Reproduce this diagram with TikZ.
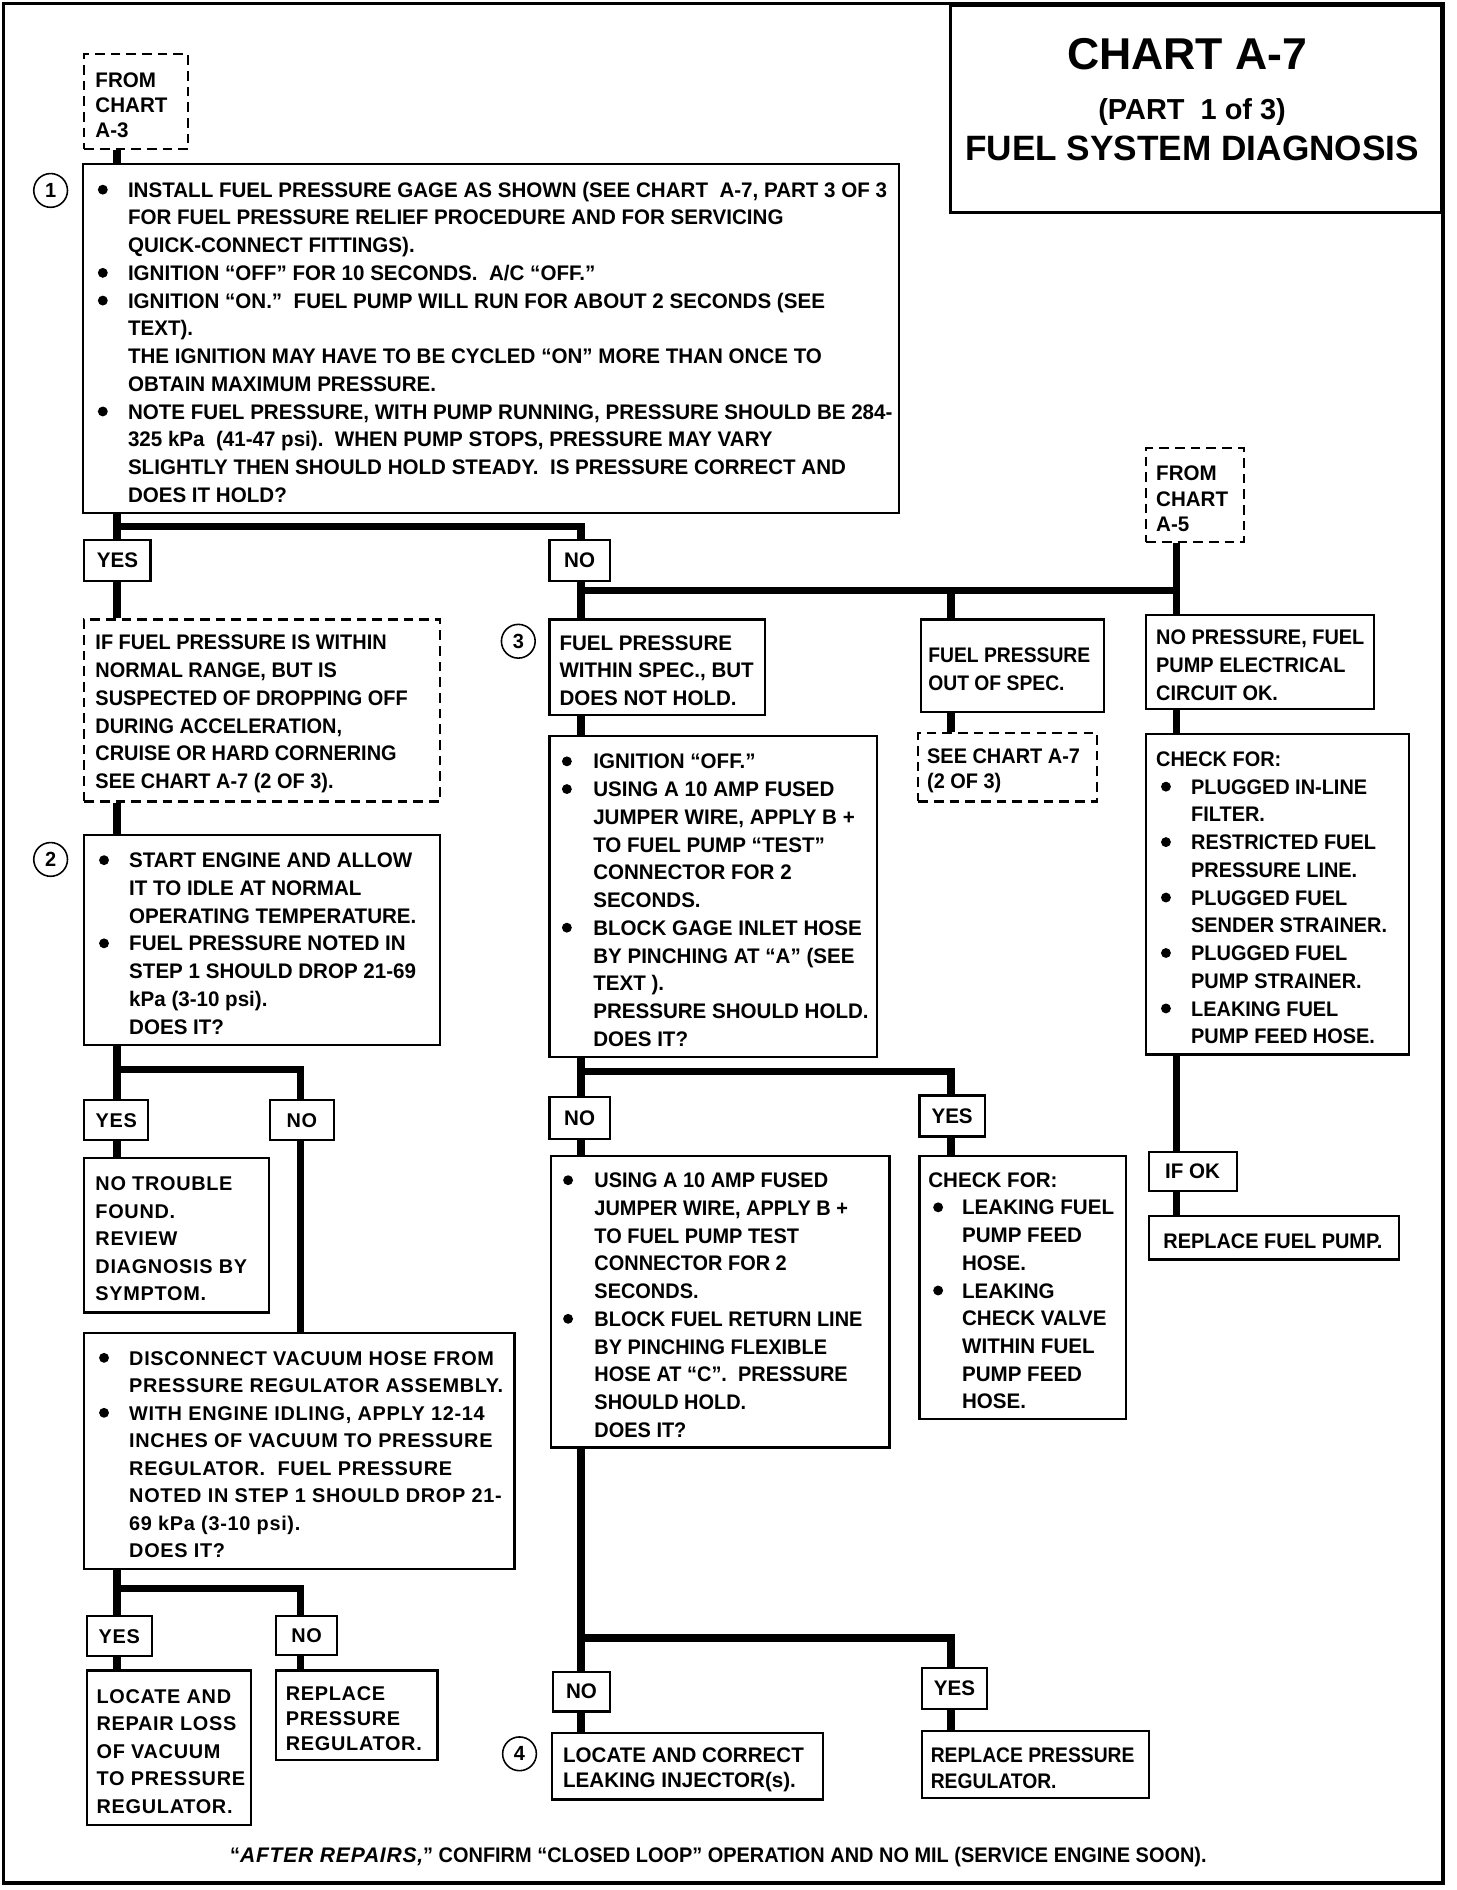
\documentclass[tikz,border=0pt]{standalone}
\usepackage{fontspec}
\setmainfont{Liberation Sans}
\newfontfamily\bodyf[FakeStretch=0.975]{Liberation Sans Bold}
\newfontfamily\bodyb[FakeStretch=0.945]{Liberation Sans Bold}
\newfontfamily\bodyc[FakeStretch=0.915]{Liberation Sans Bold}
\newfontfamily\widef[LetterSpace=3.5]{Liberation Sans Bold}
\newfontfamily\wideif[LetterSpace=3.5]{Liberation Sans Bold Italic}
\usetikzlibrary{calc}
\newcommand\mydot{\tikz[baseline={(0pt,-6.3pt)}]\fill (0pt,0pt) circle (4.1pt);}
\newcommand\mybl[2][0pt]{\makebox[#2][l]{\hspace*{#1}\mydot}}
\newcommand\myind[1]{\hspace*{#1}}
\begin{document}
\begin{tikzpicture}[x=1pt,y=-1pt,
  box/.style={draw, line width=1.8pt, rectangle, inner sep=0pt, anchor=north west},
  dbox/.style={box, dash pattern=on 8pt off 5pt},
  conn/.style={line width=6pt, line join=miter},
  txt/.style={inner sep=0pt, align=left, anchor=west, yshift=-3pt, font=\bodyf\fontsize{17.5}{23}\selectfont},
  txtb/.style={txt, font=\bodyb\fontsize{17.5}{23}\selectfont},
  txtc/.style={txt, font=\bodyc\fontsize{17.5}{23}\selectfont},
  wtxt/.style={inner sep=0pt, align=left, anchor=west, yshift=-3pt, font=\widef\fontsize{16.5}{22.8}\selectfont},
  lab/.style={box, font=\bodyf\fontsize{17.5}{20}\selectfont},
  wlab/.style={box, font=\widef\fontsize{16.5}{20}\selectfont},
  num/.style={circle, draw, line width=1.3pt, minimum size=28pt, inner sep=0pt, font=\bodyf\fontsize{17}{20}\selectfont}
]
\useasboundingbox (0,0) rectangle (1208,1568);
\fill[white] (0,0) rectangle (1208,1568);
\draw[line width=3pt] (3,3) rectangle (1197,1562);

% title
\node[box, line width=2.5pt, minimum width=408pt, minimum height=172pt] (title) at (787,3) {};
\node[font=\bfseries\fontsize{37}{40}\selectfont, inner sep=0pt] (tt1) at (985,45) {CHART A-7};
\node[font=\bfseries\fontsize{24}{28}\selectfont, inner sep=0pt] (tt2) at (989,93) {(PART\ \ 1 of 3)};
\node[font=\bfseries\fontsize{29.2}{30}\selectfont, inner sep=0pt] (tt3) at (989,123) {FUEL SYSTEM DIAGNOSIS};

% column coordinates
\coordinate (cL) at (97,0);
\coordinate (cL2) at (249,0);
\coordinate (cM) at (482,0);
\coordinate (cM2) at (789,0);
\coordinate (cR) at (976,0);

% ---------- nodes ----------
\node[dbox, minimum width=86pt, minimum height=79pt] (fromA3) at (69,44) {};
\node[txt, font=\bodyf\fontsize{17.5}{21}\selectfont] (fromA3t) at ([xshift=10pt]fromA3.west) {FROM\\CHART\\A-3};

\node[box, minimum width=677pt, minimum height=290pt] (b1) at (68,135) {};
\node[num] (n1) at (42,158) {1};
\node[txt] (b1t) at ([xshift=13pt]b1.west) {%
\mybl{25pt}INSTALL FUEL PRESSURE GAGE AS SHOWN (SEE CHART\ \ A-7, PART 3 OF 3\\
\myind{25pt}FOR FUEL PRESSURE RELIEF PROCEDURE AND FOR SERVICING\\
\myind{25pt}QUICK-CONNECT FITTINGS).\\
\mybl{25pt}IGNITION “OFF” FOR 10 SECONDS.\ \ A/C “OFF.”\\
\mybl{25pt}IGNITION “ON.”\ \ FUEL PUMP WILL RUN FOR ABOUT 2 SECONDS (SEE\\
\myind{25pt}TEXT).\\
\myind{25pt}THE IGNITION MAY HAVE TO BE CYCLED “ON” MORE THAN ONCE TO\\
\myind{25pt}OBTAIN MAXIMUM PRESSURE.\\
\mybl{25pt}NOTE FUEL PRESSURE, WITH PUMP RUNNING, PRESSURE SHOULD BE 284-\\
\myind{25pt}325 kPa\ \ (41-47 psi).\ \ WHEN PUMP STOPS, PRESSURE MAY VARY\\
\myind{25pt}SLIGHTLY THEN SHOULD HOLD STEADY.\ \ IS PRESSURE CORRECT AND\\
\myind{25pt}DOES IT HOLD?};

\node[lab, minimum width=55pt, minimum height=34pt] (yes1) at (69,447) {YES};
\node[lab, minimum width=50pt, minimum height=34pt] (no1) at (455,447) {NO};

\node[dbox, minimum width=295pt, minimum height=151pt] (d2) at (69,513) {};
\node[txtb] (d2t) at ([xshift=10pt]d2.west) {IF FUEL PRESSURE IS WITHIN\\NORMAL RANGE, BUT IS\\SUSPECTED OF DROPPING OFF\\DURING ACCELERATION,\\CRUISE OR HARD CORNERING\\SEE CHART A-7 (2 OF 3).};

\node[box, minimum width=295pt, minimum height=174pt] (b2) at (69,692) {};
\node[num] (n2) at (42,713) {2};
\node[txt] (b2t) at ([xshift=13pt]b2.west) {%
\mybl{25pt}START ENGINE AND ALLOW\\
\myind{25pt}IT TO IDLE AT NORMAL\\
\myind{25pt}OPERATING TEMPERATURE.\\
\mybl{25pt}FUEL PRESSURE NOTED IN\\
\myind{25pt}STEP 1 SHOULD DROP 21-69\\
\myind{25pt}kPa (3-10 psi).\\
\myind{25pt}DOES IT?};

\node[wlab, minimum width=53pt, minimum height=33pt] (yes2) at (69,912) {YES};
\node[wlab, minimum width=53pt, minimum height=33pt] (no2) at (223,912) {NO};

\node[box, minimum width=153pt, minimum height=128pt] (ntf) at (69,960) {};
\node[wtxt] (ntft) at ([xshift=10pt]ntf.west) {NO TROUBLE\\FOUND.\\REVIEW\\DIAGNOSIS BY\\SYMPTOM.};

\node[box, minimum width=357pt, minimum height=196pt] (disc) at (69,1105) {};
\node[wtxt] (disct) at ([xshift=13pt]disc.west) {%
\mybl{25pt}DISCONNECT VACUUM HOSE FROM\\
\myind{25pt}PRESSURE REGULATOR ASSEMBLY.\\
\mybl{25pt}WITH ENGINE IDLING, APPLY 12-14\\
\myind{25pt}INCHES OF VACUUM TO PRESSURE\\
\myind{25pt}REGULATOR.\ \ FUEL PRESSURE\\
\myind{25pt}NOTED IN STEP 1 SHOULD DROP 21-\\
\myind{25pt}69 kPa (3-10 psi).\\
\myind{25pt}DOES IT?};

\node[wlab, minimum width=54pt, minimum height=33pt] (yes3) at (71,1340) {YES};
\node[wlab, minimum width=51pt, minimum height=32pt] (no3) at (228,1340) {NO};

\node[box, minimum width=136pt, minimum height=128pt] (locrep) at (71,1385) {};
\node[wtxt] (locrept) at ([xshift=9pt]locrep.west) {LOCATE AND\\REPAIR LOSS\\OF VACUUM\\TO PRESSURE\\REGULATOR.};

\node[box, minimum width=134pt, minimum height=74pt] (rr1) at (228,1385) {};
\node[wtxt, font=\widef\fontsize{16.5}{20.5}\selectfont] (rr1t) at ([xshift=9pt]rr1.west) {REPLACE\\PRESSURE\\REGULATOR.};

% middle / right
\node[num] (n3) at (430,532) {3};
\node[box, minimum width=179pt, minimum height=79pt] (b3a) at (455,513) {};
\node[txt] (b3at) at ([xshift=9pt]b3a.west) {FUEL PRESSURE\\WITHIN SPEC., BUT\\DOES NOT HOLD.};

\node[box, minimum width=152pt, minimum height=77pt] (b3b) at (763,513) {};
\node[txtc] (b3bt) at ([xshift=7pt]b3b.west) {FUEL PRESSURE\\OUT OF SPEC.};

\node[dbox, minimum width=81pt, minimum height=78pt] (fromA5) at (950,371) {};
\node[txt, font=\bodyf\fontsize{17.5}{21}\selectfont] (fromA5t) at ([xshift=9pt]fromA5.west) {FROM\\CHART\\A-5};

\node[box, minimum width=189pt, minimum height=78pt] (b3c) at (950,509) {};
\node[txtb] (b3ct) at ([xshift=9pt]b3c.west) {NO PRESSURE, FUEL\\PUMP ELECTRICAL\\CIRCUIT OK.};

\node[dbox, minimum width=148pt, minimum height=57pt] (seeA7) at (761,607) {};
\node[txt, font=\bodyb\fontsize{17.5}{21}\selectfont] (seeA7t) at ([xshift=8pt]seeA7.west) {SEE CHART A-7\\(2 OF 3)};

\node[box, minimum width=218pt, minimum height=266pt] (chkR) at (950,608) {};
\node[txtb] (chkRt) at ([xshift=9pt]chkR.west) {CHECK FOR:\\
\mybl[4pt]{29pt}PLUGGED IN-LINE\\
\myind{29pt}FILTER.\\
\mybl[4pt]{29pt}RESTRICTED FUEL\\
\myind{29pt}PRESSURE LINE.\\
\mybl[4pt]{29pt}PLUGGED FUEL\\
\myind{29pt}SENDER STRAINER.\\
\mybl[4pt]{29pt}PLUGGED FUEL\\
\myind{29pt}PUMP STRAINER.\\
\mybl[4pt]{29pt}LEAKING FUEL\\
\myind{29pt}PUMP FEED HOSE.};

\node[lab, minimum width=73pt, minimum height=32pt] (ifok) at (952,955) {IF OK};
\node[box, minimum width=208pt, minimum height=36pt] (rpump) at (952,1008) {};
\node[txtb] (rpumpt) at ([xshift=13pt]rpump.west) {REPLACE FUEL PUMP.};

\node[box, minimum width=272pt, minimum height=266pt] (b3d) at (455,610) {};
\node[txt] (b3dt) at ([xshift=11pt]b3d.west) {%
\mybl{26pt}IGNITION “OFF.”\\
\mybl{26pt}USING A 10 AMP FUSED\\
\myind{26pt}JUMPER WIRE, APPLY B +\\
\myind{26pt}TO FUEL PUMP “TEST”\\
\myind{26pt}CONNECTOR FOR 2\\
\myind{26pt}SECONDS.\\
\mybl{26pt}BLOCK GAGE INLET HOSE\\
\myind{26pt}BY PINCHING AT “A” (SEE\\
\myind{26pt}TEXT ).\\
\myind{26pt}PRESSURE SHOULD HOLD.\\
\myind{26pt}DOES IT?};

\node[lab, minimum width=50pt, minimum height=35pt] (no4) at (455,909) {NO};
\node[lab, minimum width=54pt, minimum height=34pt] (yes4) at (762,908) {YES};

\node[box, minimum width=281pt, minimum height=242pt] (b4) at (456,958) {};
\node[txtb] (b4t) at ([xshift=11pt]b4.west) {%
\mybl{26pt}USING A 10 AMP FUSED\\
\myind{26pt}JUMPER WIRE, APPLY B +\\
\myind{26pt}TO FUEL PUMP TEST\\
\myind{26pt}CONNECTOR FOR 2\\
\myind{26pt}SECONDS.\\
\mybl{26pt}BLOCK FUEL RETURN LINE\\
\myind{26pt}BY PINCHING FLEXIBLE\\
\myind{26pt}HOSE AT “C”.\ \ PRESSURE\\
\myind{26pt}SHOULD HOLD.\\
\myind{26pt}DOES IT?};

\node[box, minimum width=171pt, minimum height=218pt] (chkM) at (762,958) {};
\node[txt] (chkMt) at ([xshift=8pt]chkM.west) {CHECK FOR:\\
\mybl[4pt]{28pt}LEAKING FUEL\\
\myind{28pt}PUMP FEED\\
\myind{28pt}HOSE.\\
\mybl[4pt]{28pt}LEAKING\\
\myind{28pt}CHECK VALVE\\
\myind{28pt}WITHIN FUEL\\
\myind{28pt}PUMP FEED\\
\myind{28pt}HOSE.};

\node[lab, minimum width=47pt, minimum height=33pt] (no5) at (458,1386) {NO};
\node[lab, minimum width=54pt, minimum height=34pt] (yes5) at (764,1383) {YES};

\node[num] (n4) at (431,1455) {4};
\node[box, minimum width=225pt, minimum height=55pt] (locinj) at (457,1437) {};
\node[txt, font=\bodyf\fontsize{17.5}{21}\selectfont] (locinjt) at ([xshift=10pt]locinj.west) {LOCATE AND CORRECT\\LEAKING INJECTOR(s).};

\node[box, minimum width=188pt, minimum height=56pt] (rr2) at (764,1435) {};
\node[txt, font=\bodyc\fontsize{17.5}{22}\selectfont] (rr2t) at ([xshift=8pt]rr2.west) {REPLACE PRESSURE\\REGULATOR.};

\node[inner sep=0pt, font=\bodyb\fontsize{17.5}{20}\selectfont] (foot) at (596,1541) {“{\wideif AFTER REPAIRS,}” CONFIRM “CLOSED LOOP” OPERATION AND NO MIL (SERVICE ENGINE SOON).};

% ---------- connectors ----------
\coordinate (j1) at (97,437);
\coordinate (j2) at (482,490);
\coordinate (j2b) at (789,490);
\coordinate (j2c) at (976,490);
\coordinate (j3) at (97,887);
\coordinate (j4) at (97,1318);
\coordinate (j5) at (482,889);
\coordinate (j6) at (482,1359);

\draw[conn] (fromA3.south -| cL) -- (b1.north -| cL);
\draw[conn] (b1.south -| cL) -- (yes1.north -| cL);
\draw[conn] (j1) -| (no1.north -| cM);
\draw[conn] (yes1.south -| cL) -- (d2.north -| cL);
\draw[conn] (d2.south -| cL) -- (b2.north -| cL);
\draw[conn] (b2.south -| cL) -- (yes2.north -| cL);
\draw[conn] (j3) -| (no2.north -| cL2);
\draw[conn] (yes2.south -| cL) -- (ntf.north -| cL);
\draw[conn] (no2.south -| cL2) -- (disc.north -| cL2);
\draw[conn] (disc.south -| cL) -- (yes3.north -| cL);
\draw[conn] (j4) -| (no3.north -| cL2);
\draw[conn] (yes3.south -| cL) -- (locrep.north -| cL);
\draw[conn] (no3.south -| cL2) -- (rr1.north -| cL2);

\draw[conn] (no1.south -| cM) -- (b3a.north -| cM);
\draw[conn] (j2) -- (j2c);
\draw[conn] (j2b) -- (b3b.north -| cM2);
\draw[conn] (fromA5.south -| cR) -- (b3c.north -| cR);
\draw[conn] (b3a.south -| cM) -- (b3d.north -| cM);
\draw[conn] (b3b.south -| cM2) -- (seeA7.north -| cM2);
\draw[conn] (b3c.south -| cR) -- (chkR.north -| cR);
\draw[conn] (chkR.south -| cR) -- (ifok.north -| cR);
\draw[conn] (ifok.south -| cR) -- (rpump.north -| cR);

\draw[conn] (b3d.south -| cM) -- (no4.north -| cM);
\draw[conn] (j5) -| (yes4.north -| cM2);
\draw[conn] (no4.south -| cM) -- (b4.north -| cM);
\draw[conn] (yes4.south -| cM2) -- (chkM.north -| cM2);
\draw[conn] (b4.south -| cM) -- (no5.north -| cM);
\draw[conn] (j6) -| (yes5.north -| cM2);
\draw[conn] (no5.south -| cM) -- (locinj.north -| cM);
\draw[conn] (yes5.south -| cM2) -- (rr2.north -| cM2);
\end{tikzpicture}
\end{document}
